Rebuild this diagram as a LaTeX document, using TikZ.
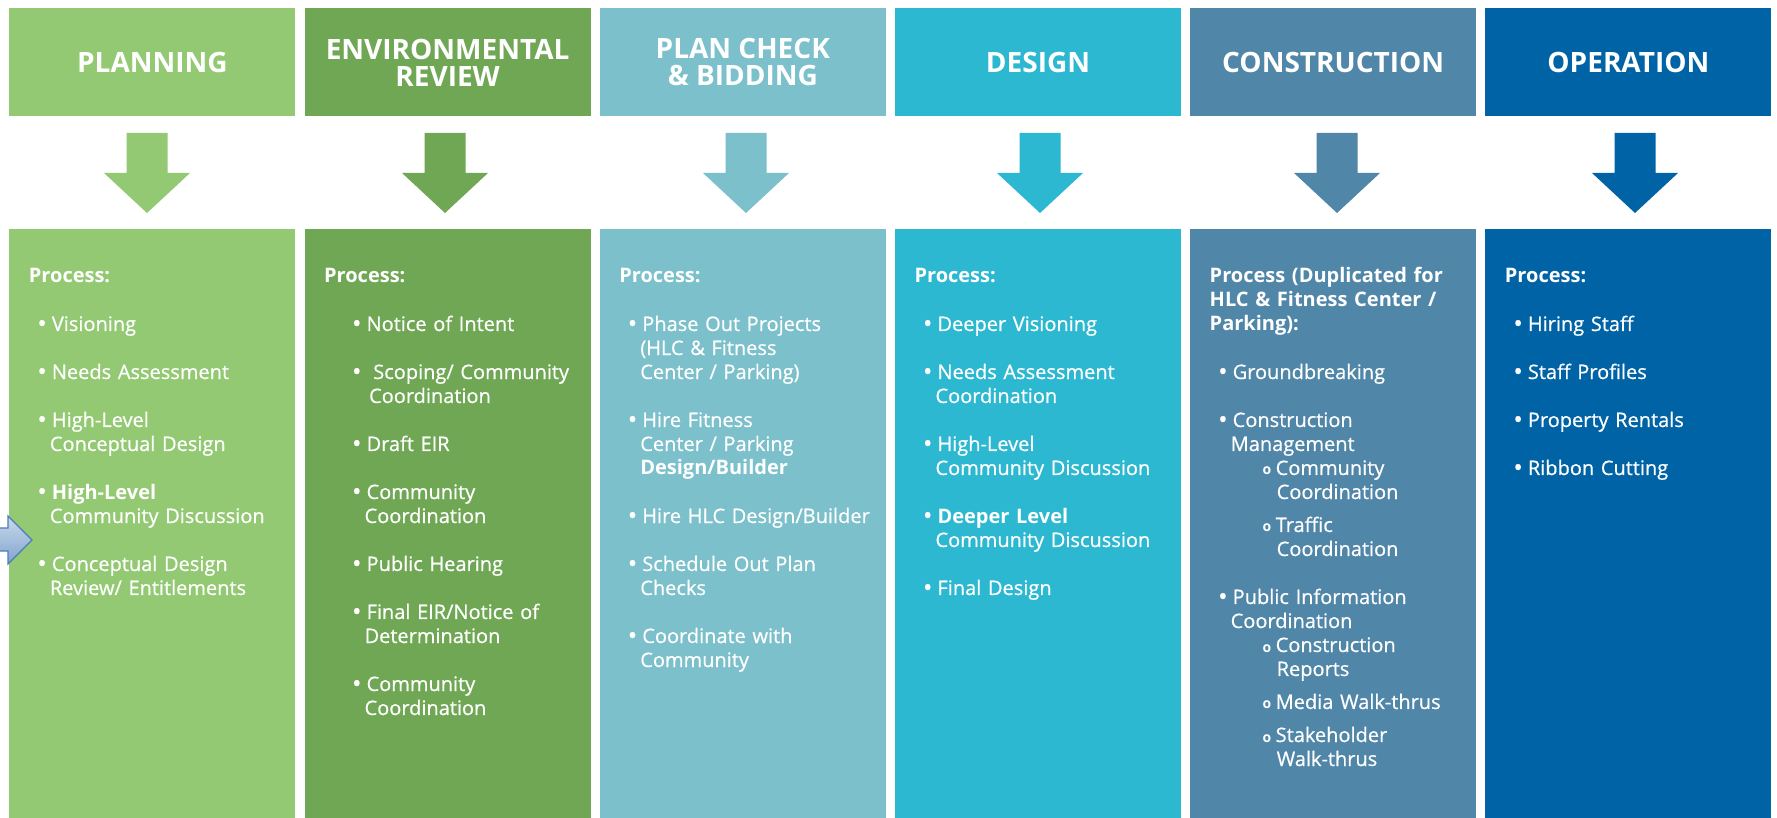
\documentclass[tikz,border=0pt]{standalone}
\usepackage{fontspec}
\setmainfont{Open Sans}[UprightFeatures={FakeBold=0.6}]

\definecolor{planning}{HTML}{93C972}
\definecolor{envreview}{HTML}{6FA754}
\definecolor{plancheck}{HTML}{7BC0CB}
\definecolor{design}{HTML}{2CB8D0}
\definecolor{construction}{HTML}{5086A8}
\definecolor{operation}{HTML}{0063A6}
\definecolor{pointer}{HTML}{4A7EBB}

% bullet lines
\newcommand{\bitem}[2][6.25pt]{\hspace*{#1}\makebox[5.25pt][l]{\hspace*{-2pt}\raisebox{-0.6pt}{\fontsize{12.5}{12}\selectfont\textbullet}}#2}
\newcommand{\bcont}[2][10.5pt]{\hspace*{#1}#2}
\newcommand{\sitem}[1]{\hspace*{26.5pt}\makebox[6.5pt][l]{\bfseries\scriptsize o}#1}
\newcommand{\scont}[1]{\hspace*{33.5pt}#1}

\tikzset{
  phasehead/.style={fill=#1, text=white, font=\bfseries\fontsize{14}{13.5}\selectfont,
    align=center, minimum width=143pt, minimum height=54pt, inner sep=0pt, anchor=north west},
  phasebody/.style={fill=#1, minimum width=143pt, minimum height=294.5pt, inner sep=0pt, anchor=north west},
  phasetext/.style={text=white, font=\fontsize{10}{12}\selectfont, text width=150pt,
    align=left, inner sep=0pt, anchor=base west}
}

\begin{document}
\begin{tikzpicture}[x=0.5pt, y=-0.5pt]
    \path [use as bounding box, fill=white] (0, 0) rectangle (1777, 818);

    % headers
    \node [phasehead=planning] (planning) at (9, 8) {PLANNING};
    \node [phasehead=envreview] (envreview) at (304.2, 8) {ENVIRONMENTAL\\REVIEW};
    \node [phasehead=plancheck] (plancheck) at (599.4, 8) {PLAN CHECK\\\& BIDDING};
    \node [phasehead=design] (design) at (894.6, 8) {DESIGN};
    \node [phasehead=construction] (construction) at (1189.8, 8) {CONSTRUCTION};
    \node [phasehead=operation] (operation) at (1485, 8) {OPERATION};

    % down arrows
    \fill [planning] (126.5, 133) -- ++(41, 0) -- ++(0, 40) -- ++(22.5, 0) -- ++(-43, 40) -- ++(-43, -40) -- ++(22.5, 0) -- cycle;
    \fill [envreview] (424.5, 133) -- ++(41, 0) -- ++(0, 40) -- ++(22.5, 0) -- ++(-43, 40) -- ++(-43, -40) -- ++(22.5, 0) -- cycle;
    \fill [plancheck] (725.5, 133) -- ++(41, 0) -- ++(0, 40) -- ++(22.5, 0) -- ++(-43, 40) -- ++(-43, -40) -- ++(22.5, 0) -- cycle;
    \fill [design] (1019.5, 133) -- ++(41, 0) -- ++(0, 40) -- ++(22.5, 0) -- ++(-43, 40) -- ++(-43, -40) -- ++(22.5, 0) -- cycle;
    \fill [construction] (1316.5, 133) -- ++(41, 0) -- ++(0, 40) -- ++(22.5, 0) -- ++(-43, 40) -- ++(-43, -40) -- ++(22.5, 0) -- cycle;
    \fill [operation] (1614.5, 133) -- ++(41, 0) -- ++(0, 40) -- ++(22.5, 0) -- ++(-43, 40) -- ++(-43, -40) -- ++(22.5, 0) -- cycle;

    % bodies
    \node [phasebody=planning] (planbox) at (9, 229) {};
    \node [phasebody=envreview] (envbox) at (304.2, 229) {};
    \node [phasebody=plancheck] (checkbox) at (599.4, 229) {};
    \node [phasebody=design] (designbox) at (894.6, 229) {};
    \node [phasebody=construction] (buildbox) at (1189.8, 229) {};
    \node [phasebody=operation] (opbox) at (1485, 229) {};

    % process lists
    \node [phasetext] (plantext) at (28.5, 283) {\textbf{Process:}\\[12pt]
        \bitem{Visioning}\\[12pt]
        \bitem{Needs Assessment}\\[12pt]
        \bitem{High-Level}\\
        \bcont{Conceptual Design}\\[12pt]
        \bitem{\textbf{High-Level}}\\
        \bcont{Community Discussion}\\[12pt]
        \bitem{Conceptual Design}\\
        \bcont{Review/ Entitlements}};
    \node [phasetext] (envtext) at (323.7, 283) {\textbf{Process:}\\[12pt]
        \bitem[16pt]{Notice of Intent}\\[12pt]
        \bitem[16pt]{\ Scoping/ Community}\\
        \bcont[22.5pt]{Coordination}\\[12pt]
        \bitem[16pt]{Draft EIR}\\[12pt]
        \bitem[16pt]{Community}\\
        \bcont[20.25pt]{Coordination}\\[12pt]
        \bitem[16pt]{Public Hearing}\\[12pt]
        \bitem[16pt]{Final EIR/Notice of}\\
        \bcont[20.25pt]{Determination}\\[12pt]
        \bitem[16pt]{Community}\\
        \bcont[20.25pt]{Coordination}};
    \node [phasetext] (checktext) at (618.9, 283) {\textbf{Process:}\\[12pt]
        \bitem{Phase Out Projects}\\
        \bcont{(HLC \& Fitness}\\
        \bcont{Center / Parking)}\\[12pt]
        \bitem{Hire Fitness}\\
        \bcont{Center / Parking}\\
        \bcont{\textbf{Design/Builder}}\\[12pt]
        \bitem{Hire HLC Design/Builder}\\[12pt]
        \bitem{Schedule Out Plan}\\
        \bcont{Checks}\\[12pt]
        \bitem{Coordinate with}\\
        \bcont{Community}};
    \node [phasetext] (designtext) at (914.1, 283) {\textbf{Process:}\\[12pt]
        \bitem{Deeper Visioning}\\[12pt]
        \bitem{Needs Assessment}\\
        \bcont{Coordination}\\[12pt]
        \bitem{High-Level}\\
        \bcont{Community Discussion}\\[12pt]
        \bitem{\textbf{Deeper Level}}\\
        \bcont{Community Discussion}\\[12pt]
        \bitem{Final Design}};
    \node [phasetext] (buildtext) at (1209.3, 283) {\textbf{Process (Duplicated for}\\
        \textbf{HLC \& Fitness Center /}\\
        \textbf{Parking):}\\[12pt]
        \bitem{Groundbreaking}\\[12pt]
        \bitem{Construction}\\
        \bcont{Management}\\
        \sitem{Community}\\
        \scont{Coordination}\\[4.5pt]
        \sitem{Traffic}\\
        \scont{Coordination}\\[12pt]
        \bitem{Public Information}\\
        \bcont{Coordination}\\
        \sitem{Construction}\\
        \scont{Reports}\\[4.5pt]
        \sitem{Media Walk-thrus}\\[4.5pt]
        \sitem{Stakeholder}\\
        \scont{Walk-thrus}};
    \node [phasetext] (optext) at (1504.5, 283) {\textbf{Process:}\\[12pt]
        \bitem{Hiring Staff}\\[12pt]
        \bitem{Staff Profiles}\\[12pt]
        \bitem{Property Rentals}\\[12pt]
        \bitem{Ribbon Cutting}};

    % pointer at the left edge
    \draw [pointer, line width=0.6pt, top color=pointer!30, bottom color=pointer!70] (-5, 528) -- (8, 528) -- (8, 516) -- (32, 540) -- (8, 564) -- (8, 551) -- (-5, 551) -- cycle;
\end{tikzpicture}
\end{document}
